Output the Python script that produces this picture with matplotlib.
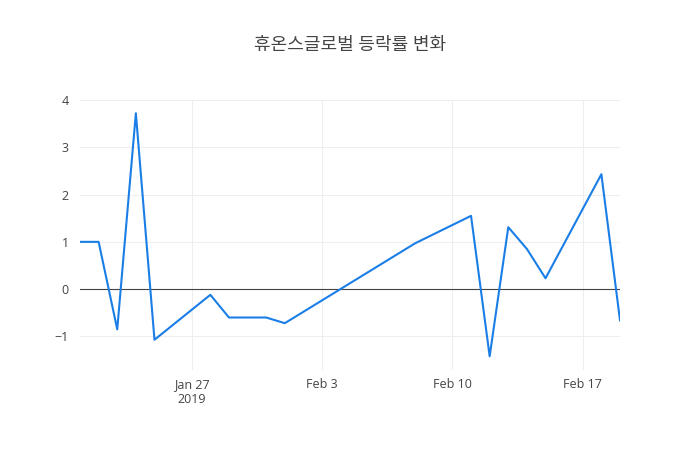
import matplotlib
matplotlib.use("Agg")
import matplotlib.pyplot as plt
import pandas as pd

plt.rcParams['font.family'] = ['Open Sans', 'Noto Sans CJK KR', 'DejaVu Sans']

# 데이터
dates = pd.to_datetime([
    "2019-01-21", "2019-01-22", "2019-01-23", "2019-01-24", "2019-01-25",
    "2019-01-28", "2019-01-29", "2019-01-31", "2019-02-01", "2019-02-08",
    "2019-02-11", "2019-02-12", "2019-02-13", "2019-02-14", "2019-02-15",
    "2019-02-18", "2019-02-19",
])
changes = [1.0, 1.0, -0.85, 3.72, -1.07,
           -0.12, -0.60, -0.60, -0.72, 0.97,
           1.55, -1.42, 1.31, 0.85, 0.23,
           2.43, -0.66]

tick_dates = pd.to_datetime(["2019-01-27", "2019-02-03", "2019-02-10", "2019-02-17"])
tick_labels = ["Jan 27\n2019", "Feb 3", "Feb 10", "Feb 17"]
y_ticks = [-1, 0, 1, 2, 3, 4]
y_labels = ["\u22121", "0", "1", "2", "3", "4"]

fig = plt.figure(figsize=(7, 4.5), dpi=100)
ax = fig.add_axes([80 / 700, 80 / 450, 540 / 700, 270 / 450])

ax.plot(dates, changes, color="#1a7ee6", linewidth=1.5, zorder=3)
ax.axhline(0, color="#444444", linewidth=0.8, zorder=2)

ax.set_xlim(dates[0], dates[-1])
ax.set_ylim(-1.71, 4.0)

ax.set_xticks(tick_dates)
ax.set_xticklabels(tick_labels)
ax.set_yticks(y_ticks)
ax.set_yticklabels(y_labels)

ax.grid(True, color="#eeeeee", linewidth=0.75, zorder=0)
for s in ax.spines.values():
    s.set_visible(False)
ax.tick_params(length=0, labelsize=9, colors="#444444")
ax.tick_params(axis="x", pad=6)
ax.tick_params(axis="y", pad=8)

fig.suptitle("휴온스글로벌 등락률 변화", x=0.5, y=1 - 45 / 450, va="center",
             fontsize=13, color="#444444")

fig.savefig("out.png", dpi=100)
